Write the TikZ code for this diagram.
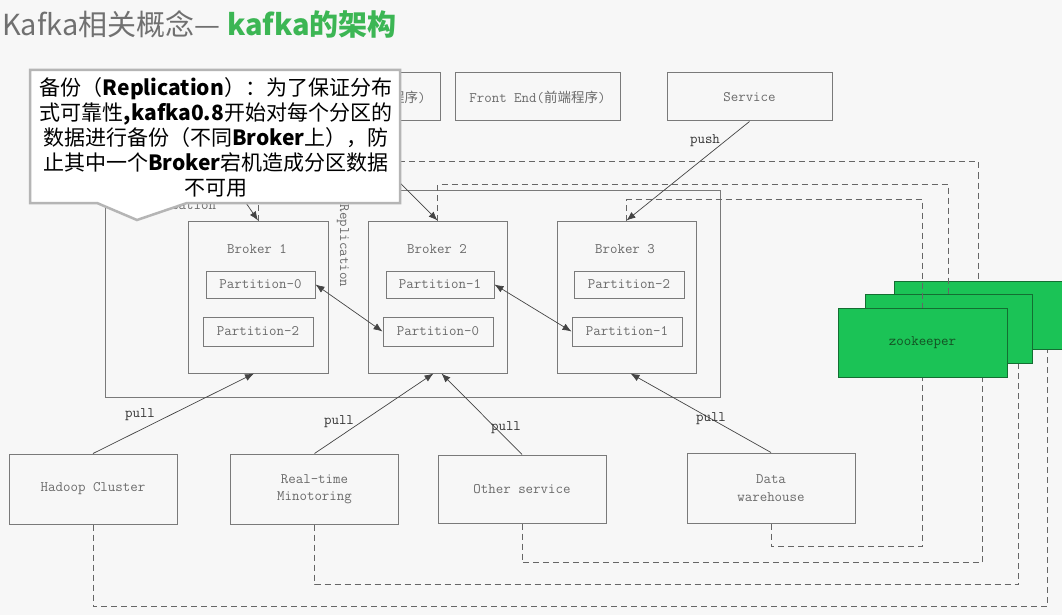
\documentclass[tikz,border=0pt]{standalone}
\usepackage{fontspec}
\setmainfont{Noto Sans CJK SC}
\newfontfamily\cjk{Noto Sans CJK SC}
\usetikzlibrary{arrows.meta}
\definecolor{bg}{HTML}{F7F7F7}
\definecolor{boxgray}{HTML}{7A7A7A}
\definecolor{txtgray}{HTML}{6A6A6A}
\definecolor{linegray}{HTML}{444444}
\definecolor{dashgray}{HTML}{666666}
\definecolor{titlegray}{HTML}{707070}
\definecolor{titlegreen}{RGB}{60,182,84}
\definecolor{zkfill}{RGB}{27,195,86}
\definecolor{zkborder}{RGB}{20,110,50}
\definecolor{zktext}{RGB}{20,80,35}
\definecolor{callborder}{HTML}{B5B5B5}
\newcommand\lblfont{\ttfamily\fontsize{14.5}{17.5}\selectfont}
\begin{document}
\begin{tikzpicture}[x=1pt,y=-1pt,
  box/.style={draw=boxgray, line width=1pt, inner sep=0pt, font=\lblfont, text=txtgray, align=center},
  lbl/.style={inner sep=0pt, font=\lblfont, text=txtgray},
  tag/.style={inner sep=0pt, font=\lblfont, text=black!80},
  zk/.style={draw=zkborder, line width=1pt, fill=zkfill, inner sep=0pt, minimum width=168pt, minimum height=69pt},
  conn/.style={draw=linegray, line width=0.7pt, -{Latex[length=9pt,width=7pt]}},
  dconn/.style={draw=linegray, line width=0.7pt, {Latex[length=9pt,width=7pt]}-{Latex[length=9pt,width=7pt]}},
  zkline/.style={draw=dashgray, line width=1pt, dash pattern=on 6pt off 4pt}
]
\useasboundingbox (0,0) rectangle (1062,615);
\fill[bg] (0,0) rectangle (1062,615);

% title
\node[anchor=west, inner sep=0pt, font=\fontsize{29}{34}\selectfont] (title) at (2,24)
  {\textcolor{titlegray}{Kafka相关概念— }\textcolor{titlegreen}{\bfseries kafka的架构}};

% top producers
\node[box, minimum width=165pt, minimum height=48pt] (fe2) at (357.5,97)
  {{\ttfamily Front End(}{\cjk\fontsize{13.5}{16}\selectfont 前端程序}{\ttfamily )}};
\node[box, minimum width=165pt, minimum height=48pt] (fe) at (537.5,97)
  {{\ttfamily Front End(}{\cjk\fontsize{13.5}{16}\selectfont 前端程序}{\ttfamily )}};
\node[box, minimum width=165pt, minimum height=48pt] (sv) at (749.5,97) {Service};
\coordinate (fe1) at (190,121);

% cluster
\node[box, minimum width=615pt, minimum height=207pt] (cluster) at (412.5,293.5) {};
\node[lbl] (rep1) at (175,207) {Replication};
\node[lbl, rotate=-90] (rep2) at (343,246) {Replication};

% brokers
\node[box, minimum width=140pt, minimum height=152pt] (b1) at (258,297) {};
\node[box, minimum width=139pt, minimum height=152pt] (b2) at (437.5,297) {};
\node[box, minimum width=139pt, minimum height=152pt] (b3) at (626.5,297) {};
\node[lbl] (b1t) at (257,249) {Broker 1};
\node[lbl] (b2t) at (437,249) {Broker 2};
\node[lbl] (b3t) at (625,249) {Broker 3};

\node[box, minimum width=109pt, minimum height=27pt] (p10) at (260.5,284.5) {Partition-0};
\node[box, minimum width=110pt, minimum height=29pt] (p12) at (258,331.5) {Partition-2};
\node[box, minimum width=108pt, minimum height=27pt] (p21) at (440,284.5) {Partition-1};
\node[box, minimum width=110pt, minimum height=29pt] (p20) at (438,331.5) {Partition-0};
\node[box, minimum width=110pt, minimum height=27pt] (p32) at (629,284.5) {Partition-2};
\node[box, minimum width=110pt, minimum height=29pt] (p31) at (627,331.5) {Partition-1};

% consumers
\node[box, minimum width=168pt, minimum height=70pt] (hc) at (93,489) {Hadoop Cluster};
\node[box, minimum width=168pt, minimum height=70pt] (rt) at (314.5,489) {Real-time\\Minotoring};
\node[box, minimum width=168pt, minimum height=68pt] (os) at (522,489) {Other service};
\node[box, minimum width=168pt, minimum height=70pt] (dw) at (771,488) {Data\\warehouse};

% zookeeper
\node[zk, minimum width=168pt, minimum height=68pt] (zk3) at (978,315) {};
\node[zk, minimum width=167pt] (zk2) at (948.5,328.5) {};
\node[zk, minimum width=169pt, font=\lblfont, text=zktext] (zk1) at (922.5,342.5) {zookeeper};

% replication arrows
\draw[dconn] (p10.east) -- (p20.west);
\draw[dconn] (p21.east) -- (p31.west);

% push arrows
\draw[conn] (fe1) -- (b1.north);
\draw[conn] ([xshift=-19pt]fe2.south) -- (b2.north);
\draw[conn] (sv.south) -- (b3.north);
\node[tag] (push) at (705,141) {push};

% pull arrows
\draw[conn] (hc.north) -- ([xshift=-4pt]b1.south);
\draw[conn] (rt.north) -- ([xshift=-4pt]b2.south);
\draw[conn] (os.north) -- ([xshift=4pt]b2.south);
\draw[conn] (dw.north) -- ([xshift=4pt]b3.south);
\node[tag] (pull1) at (140,415) {pull};
\node[tag] (pull2) at (339,422) {pull};
\node[tag] (pull3) at (506,428) {pull};
\node[tag] (pull4) at (711,419) {pull};

% zookeeper links
\draw[zkline] (b1.north) -- ++(0,-59) -| (zk3.north);
\draw[zkline] (b2.north) -- ++(0,-36) -| (zk2.north);
\draw[zkline] (b3.north) -- ++(0,-21) -| (zk1.north);
\draw[zkline] (dw.south) -- ++(0,23) -| (zk1.south);
\draw[zkline] (os.south) -- ++(0,39) -| ([xshift=60pt]zk1.south);
\draw[zkline] (rt.south) -- ++(0,60) -| ([xshift=70pt]zk2.south);
\draw[zkline] (hc.south) -- ++(0,82) -| ([xshift=69pt]zk3.south);

% callout
\draw[callborder, line width=2.5pt, fill=white, line join=miter]
  (30,70) -- (400,70) -- (400,203) -- (187,203) -- (137,220) -- (97,203) -- (30,203) -- cycle;
\node[inner sep=0pt, align=center, text=black, font=\fontsize{21}{25}\selectfont] (callout) at (216,137)
  {备份（\textbf{Replication}）：为了保证分布\\
   式可靠性\textbf{,kafka0.8}开始对每个分区的\\
   数据进行备份（不同\textbf{Broker}上），防\\
   止其中一个\textbf{Broker}宕机造成分区数据\\
   不可用};
\end{tikzpicture}
\end{document}
